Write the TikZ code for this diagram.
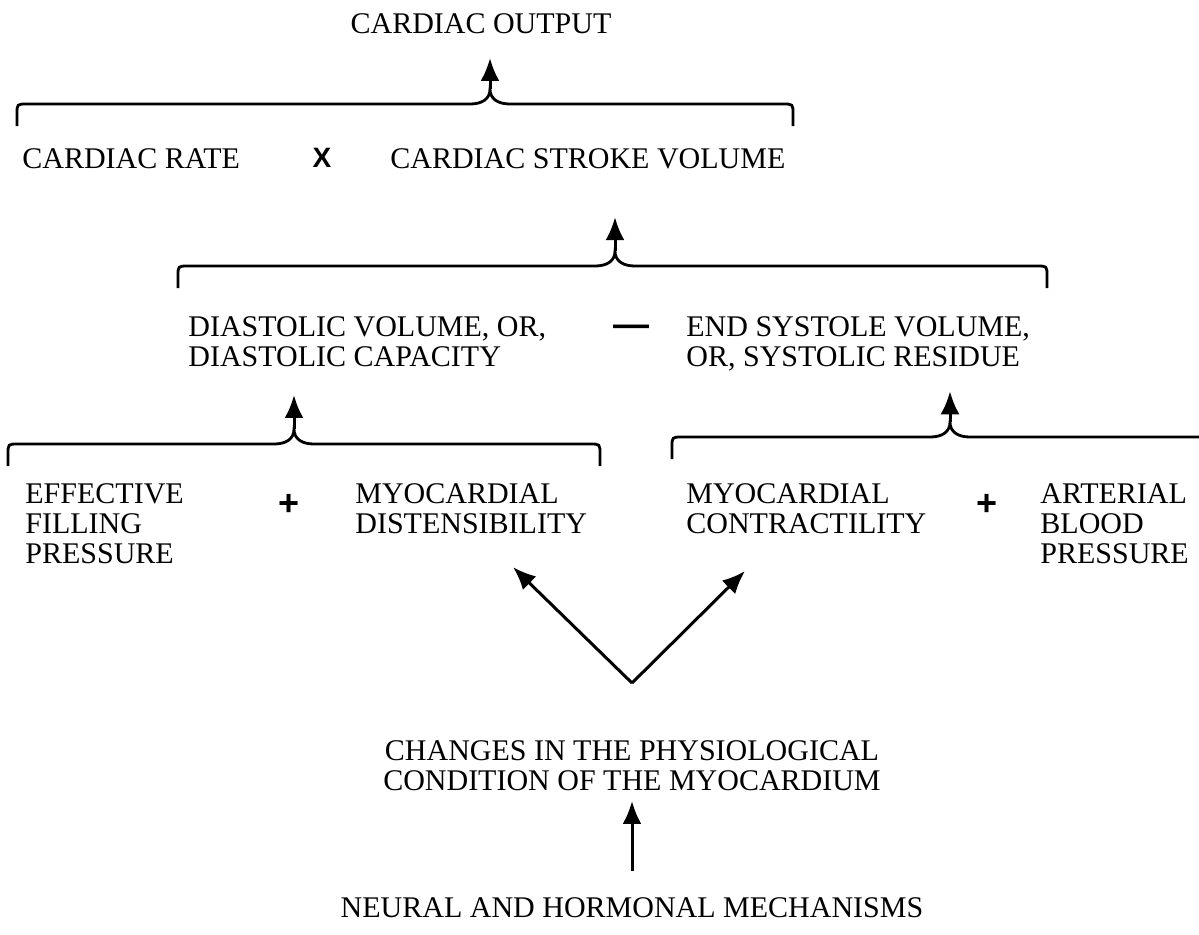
\documentclass[tikz,border=0pt]{standalone}
\usepackage{fontspec}
\setmainfont{Liberation Serif}
\newfontfamily\signfont{Liberation Sans}
\usetikzlibrary{arrows.meta}

% curly brace opening downwards, with its cusp named #5
\newcommand{\bracedown}[5]{%
  \draw[bracestyle] (#1,{#4+22}) -- (#1,{#4+10}) .. controls (#1,#4) .. ({#1+10},#4)
    -- ({#2-20},#4) .. controls ({#2-8},#4) and (#2,{#4-5}) .. (#2,{#4-15}) coordinate (#5)
    .. controls (#2,{#4-5}) and ({#2+8},#4) .. ({#2+20},#4)
    -- ({#3-10},#4) .. controls (#3,#4) .. (#3,{#4+10}) -- (#3,{#4+22});
}

\begin{document}
\begin{tikzpicture}[x=0.5pt,y=-0.5pt,font=\fontsize{15}{15}\selectfont,
  bracestyle/.style={line width=1.4pt},
  arr/.style={arrows={-Latex[length=11.5pt,width=9.5pt]},line width=1.5pt},
  lbl/.style={inner sep=0pt,align=left},
  sign/.style={inner sep=0pt,font=\signfont\bfseries\fontsize{18}{18}\selectfont}]
  \clip (0,0) rectangle (1199,934);

  % cardiac output = rate x stroke volume
  \node[lbl,anchor=north] (out) at (481,13) {CARDIAC OUTPUT};
  \node[lbl,anchor=north west] (rate) at (22,148) {CARDIAC RATE};
  \node[inner sep=0pt,font=\signfont\bfseries\fontsize{14}{14}\selectfont] (times) at (322,158) {X};
  \node[lbl,anchor=north west] (stroke) at (390,148) {CARDIAC STROKE VOLUME};
  \bracedown{17}{490}{793}{104}{cusp1}
  \draw[arr,shorten >=12pt] (cusp1) -- (cusp1 |- out.south);

  % stroke volume = diastolic volume - systolic residue
  \node[lbl,anchor=north west] (diast) at (188,316)
    {DIASTOLIC VOLUME, OR,\\DIASTOLIC CAPACITY};
  \node[sign] (minus) at (631,331) {\textemdash};
  \node[lbl,anchor=north west] (endsys) at (686,316)
    {END SYSTOLE VOLUME,\\OR, SYSTOLIC RESIDUE};
  \bracedown{178}{615}{1047}{266}{cusp2}
  \draw[arr,shorten >=24pt] (cusp2) -- (cusp2 |- stroke.south);

  % diastolic side
  \node[lbl,anchor=north west] (eff) at (25,483) {EFFECTIVE\\FILLING\\PRESSURE};
  \node[sign] (plusl) at (289,505) {+};
  \node[lbl,anchor=north west] (dist) at (355,483) {MYOCARDIAL\\DISTENSIBILITY};
  \bracedown{8}{294}{600}{444}{cusp3}
  \draw[arr,shorten >=14pt] (cusp3) -- (cusp3 |- diast.south);

  % systolic side
  \node[lbl,anchor=north west] (cont) at (686,483) {MYOCARDIAL\\CONTRACTILITY};
  \node[sign] (plusr) at (987,505) {+};
  \node[lbl,anchor=north west] (art) at (1040,483) {ARTERIAL\\BLOOD\\PRESSURE};
  \bracedown{672}{950}{1215}{437}{cusp4}
  \draw[arr,shorten >=10pt] (cusp4) -- (cusp4 |- endsys.south);

  % myocardium and its control
  \node[lbl,align=center,anchor=north] (chg) at (632,740)
    {CHANGES IN THE PHYSIOLOGICAL\\CONDITION OF THE MYOCARDIUM};
  \node[lbl,anchor=north] (neural) at (632,897) {NEURAL AND HORMONAL MECHANISMS};
  \coordinate (fork) at (632,683);
  \coordinate (disttip) at (513,567);
  \coordinate (conttip) at (745,571);
  \draw[arr] (fork) -- (disttip);
  \draw[arr] (fork) -- (conttip);
  \draw[arr,shorten <=13pt,shorten >=5pt] (neural.north) -- (chg.south);
\end{tikzpicture}
\end{document}
